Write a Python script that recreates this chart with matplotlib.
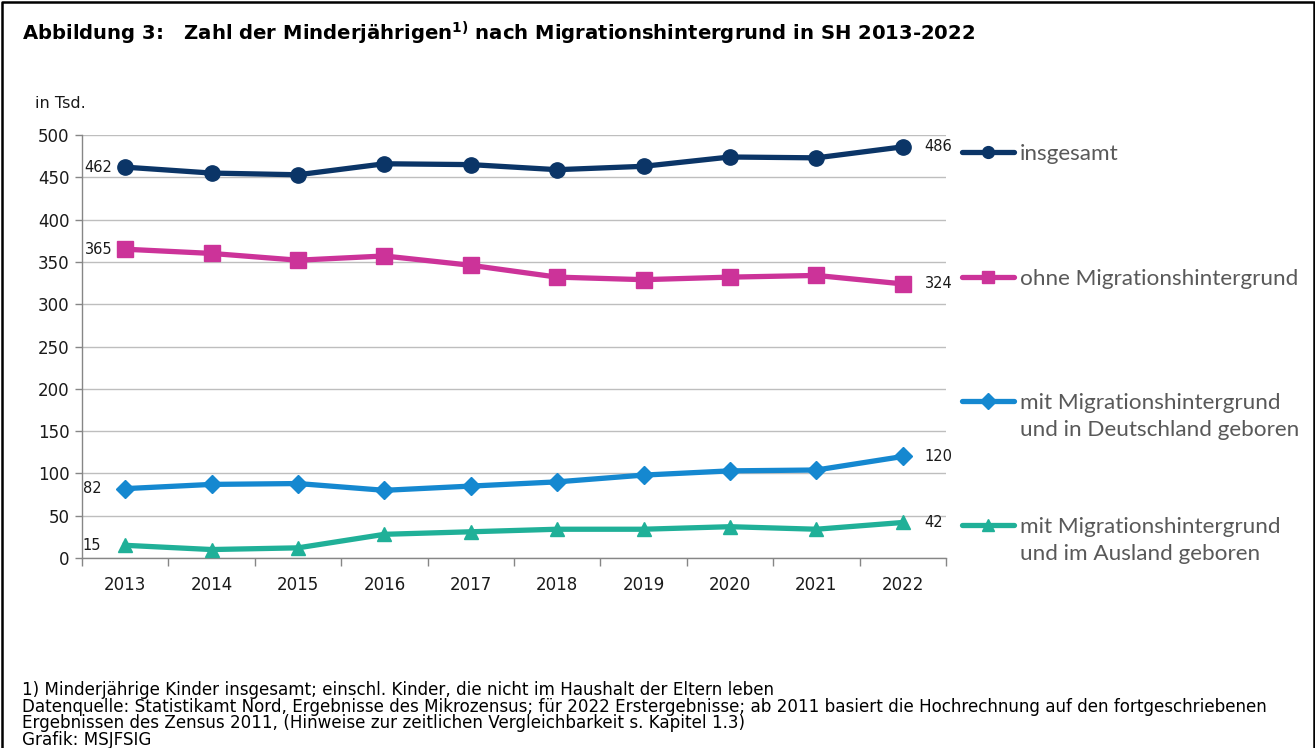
import matplotlib
matplotlib.use("Agg")
import matplotlib.pyplot as plt
from matplotlib.lines import Line2D

plt.rcParams['font.family'] = ['DejaVu Sans']
plt.rcParams['mathtext.fontset'] = 'dejavusans'

years = ['2013', '2014', '2015', '2016', '2017', '2018', '2019', '2020', '2021', '2022']
insgesamt = [462, 455, 453, 466, 465, 459, 463, 474, 473, 486]
ohne_mh = [365, 360, 352, 357, 346, 332, 329, 332, 334, 324]
mit_mh_de = [82, 87, 88, 80, 85, 90, 98, 103, 104, 120]
mit_mh_ausl = [15, 10, 12, 28, 31, 34, 34, 37, 34, 42]

series_names = ['insgesamt', 'ohne Migrationshintergrund',
                'mit Migrationshintergrund\nund in Deutschland geboren',
                'mit Migrationshintergrund\nund im Ausland geboren']
series_values = [insgesamt, ohne_mh, mit_mh_de, mit_mh_ausl]
colors = ['#0B3567', '#CC3399', '#1588D0', '#20B098']
markers = ['o', 's', 'D', '^']
msizes = [11, 11, 9, 10.5]
left_off = [13, 13, 24, 24]

title = r"Abbildung 3:   Zahl der Minderjährigen$^{\mathbf{1)}}$ nach Migrationshintergrund in SH 2013-2022"
footnotes = [
    "1) Minderjährige Kinder insgesamt; einschl. Kinder, die nicht im Haushalt der Eltern leben",
    "Datenquelle: Statistikamt Nord, Ergebnisse des Mikrozensus; für 2022 Erstergebnisse; ab 2011 basiert die Hochrechnung auf den fortgeschriebenen",
    "Ergebnissen des Zensus 2011, (Hinweise zur zeitlichen Vergleichbarkeit s. Kapitel 1.3)",
    "Grafik: MSJFSIG",
]

W, H = 1315, 748
fig = plt.figure(figsize=(W / 100, H / 100), dpi=100)
fig.patch.set_facecolor('white')

def fx(px):
    return px / W

def fy(py):
    return 1 - py / H

ax = fig.add_axes([fx(82), fy(558), fx(946) - fx(82), fy(135) - fy(558)])
x = list(range(len(years)))

for vals, c, m, ms in zip(series_values, colors, markers, msizes):
    ax.plot(x, vals, color=c, lw=3.8, marker=m, ms=ms, mec=c, mfc=c,
            solid_joinstyle='round', zorder=3, clip_on=False)

for vals, off in zip(series_values, left_off):
    ax.annotate(str(vals[0]), (x[0], vals[0]), xytext=(-off * 0.72, 0),
                textcoords='offset points', ha='right', va='center',
                fontsize=10.5, color='#1a1a1a')
    ax.annotate(str(vals[-1]), (x[-1], vals[-1]), xytext=(22 * 0.72, 0),
                textcoords='offset points', ha='left', va='center',
                fontsize=10.5, color='#1a1a1a')

ax.set_xlim(-0.5, len(years) - 0.5)
ax.set_ylim(0, 500)
ax.set_yticks(range(0, 501, 50))
ax.set_xticks(x)
ax.set_xticklabels(years)
ax.set_xticks([i - 0.5 for i in range(len(years) + 1)], minor=True)
ax.tick_params(axis='x', which='major', length=0, pad=13, labelsize=12, labelcolor='#1a1a1a')
ax.tick_params(axis='x', which='minor', length=6, width=1, color='#868686', direction='out')
ax.tick_params(axis='y', length=5, width=1, color='#868686', labelsize=12,
               labelcolor='#1a1a1a', pad=4)
ax.grid(axis='y', color='#BEBEBE', lw=1)
ax.set_axisbelow(True)
for s in ['top', 'right']:
    ax.spines[s].set_visible(False)
for s in ['left', 'bottom']:
    ax.spines[s].set_color('#868686')
    ax.spines[s].set_linewidth(1)

# "in Tsd."
fig.text(fx(35), fy(103), 'in Tsd.', fontsize=11.5, color='#1a1a1a', va='center', ha='left')

# Custom legend
leg_y = [152, 277, 401, 525]
for name, c, m, ly in zip(series_names, colors, markers, leg_y):
    fig.add_artist(Line2D([fx(962), fx(1014)], [fy(ly), fy(ly)], color=c, lw=3.8,
                          solid_capstyle='round'))
    fig.add_artist(Line2D([fx(988)], [fy(ly)], marker=m, ms=8.5, color=c, mec=c))
    fig.text(fx(1020), fy(ly - 8), name, fontsize=16.2, family=['Lato', 'DejaVu Sans'],
             color='#595959', va='top', ha='left', linespacing=1.45)

# Title
fig.text(fx(22), fy(33), title, fontsize=14.1, fontweight='bold', va='center', ha='left',
         color='black')

# Footnotes
for i, line in enumerate(footnotes):
    fig.text(fx(22), fy(690 + i * 16.7), line, fontsize=12.1, va='center', ha='left',
             color='black')

# Frame
fig.add_artist(Line2D([fx(1.5), fx(1.5), fx(1313.5), fx(1313.5)],
                      [fy(H), fy(1.5), fy(1.5), fy(H)], color='black', lw=1.8))

fig.savefig('out.png', dpi=100)
